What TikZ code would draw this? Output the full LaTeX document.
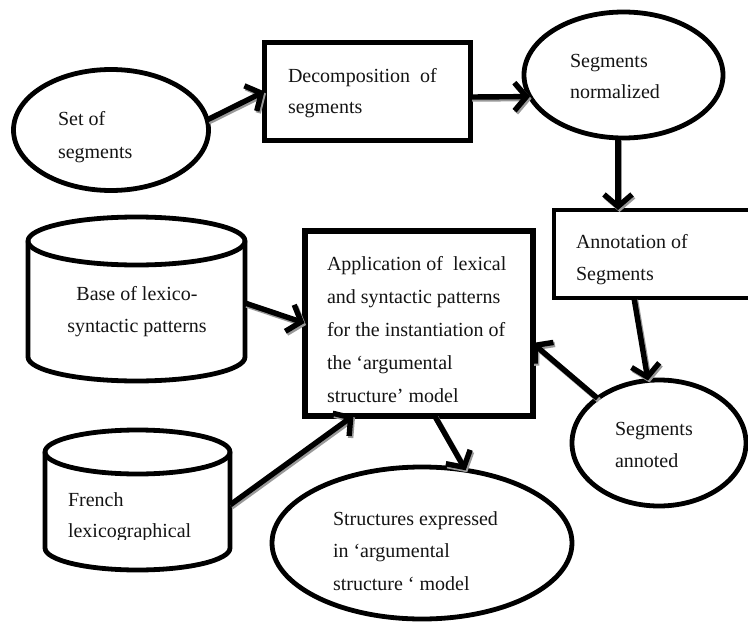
\documentclass[tikz,border=0pt]{standalone}
\usepackage{fontspec}
\setmainfont{Liberation Serif}
\usetikzlibrary{shapes.geometric,arrows.meta,calc}

\tikzset{
  outline/.style={draw=black, line width=4.8pt, fill=white, inner sep=0pt, outer sep=0pt},
  oval/.style={outline, ellipse},
  boxed/.style={outline, rectangle},
  drumframe/.style={rectangle, inner sep=0pt, outer sep=0pt},
  drumline/.style={draw=black, line width=4.8pt, fill=white, line join=round},
  txt/.style={inner sep=0pt, outer sep=0pt, text=black!92,
    font=\fontsize{20}{#1}\selectfont, align=left, anchor=base west},
  flow/.style={draw=black, line width=5.4pt,
    -{Straight Barb[length=12pt,width=28pt]}},
  flowshade/.style={flow, draw=black!40, transform canvas={shift={(1.5pt,-2pt)}}},
}

% database drum drawn over an invisible frame node: #1 node, #2 half width, #3 cap radius
\newcommand\drum[3]{%
  \draw[drumline] ($(#1.north west)+(0,#3)$) -- ($(#1.south west)+(0,-#3)$)
    arc[start angle=180, end angle=0, x radius=#2, y radius=#3]
    -- ($(#1.north east)+(0,#3)$)
    arc[start angle=0, end angle=-180, x radius=#2, y radius=#3] -- cycle;
  \draw[drumline, fill=none] ($(#1.north west)+(0,#3)$)
    arc[start angle=180, end angle=0, x radius=#2, y radius=#3];
}

% connector with a soft grey offset copy underneath
\newcommand\flowline[2]{%
  \draw[flowshade] #1 -- #2;
  \draw[flow] #1 -- #2;
}

\begin{document}
\begin{tikzpicture}[x=1pt,y=-1pt]
\useasboundingbox (0,0) rectangle (748,624);
\fill[white] (0,0) rectangle (748,624);
\begin{scope}
\clip (0,0) rectangle (748,624);

% processes and data
\node[oval, minimum width=195pt, minimum height=121pt] (set) at (111,130) {};
\node[boxed, line width=5.4pt, minimum width=206pt, minimum height=98pt] (dec) at (367.5,91.5) {};
\node[oval, minimum width=199pt, minimum height=126pt] (norm) at (623.5,75) {};
\node[boxed, minimum width=244pt, minimum height=88pt] (annot) at (676,254) {};
\node[boxed, line width=6pt, minimum width=228pt, minimum height=185pt] (app) at (418.5,323) {};
\node[oval, minimum width=174pt, minimum height=126pt] (seg2) at (659,443) {};
\node[oval, minimum width=300pt, minimum height=152pt] (struct) at (422,543) {};
\node[drumframe, minimum width=217pt, minimum height=164pt] (base) at (136.5,299) {};
\node[drumframe, minimum width=185pt, minimum height=140pt] (french) at (137.5,500) {};
\drum{base}{108.5}{24}
\drum{french}{92.5}{22}

% labels (anchored on the baseline of their last line)
\node[txt=33] (setT) at (58,158) {Set of\\segments};
\node[txt=31] (decT) at (288,113) {Decomposition\ \ of\\segments};
\node[txt=31] (normT) at (570,98) {Segments\\normalized};
\node[txt=32] (annotT) at (576,280) {Annotation of\\Segments};
\node[txt=32, align=center, anchor=base] (baseT) at (137,332) {Base of lexico-\\syntactic patterns};
\node[txt=33] (appT) at (327,402) {Application of\ \ lexical\\and syntactic patterns\\for the instantiation of\\the ‘argumental\\structure’ model};
\node[txt=32] (seg2T) at (615,467) {Segments\\annoted};
\begin{scope}
  \clip (0,0) rectangle (748,539);
  \node[txt=31] (frenchT) at (68,537) {French\\lexicographical};
\end{scope}
\node[txt=32.5] (structT) at (333,590) {Structures expressed\\in ‘argumental\\structure ‘ model};

% connectors
\flowline{(set.6)}{(dec.west)}
\flowline{([yshift=-5.5pt]dec.east)}{(norm.193)}
\flowline{(norm.265)}{(norm.265 |- annot.north)}
\flowline{([xshift=80pt]annot.south west)}{(seg2.100)}
\flowline{(seg2.144)}{([yshift=-20pt]app.east)}
\flowline{([yshift=-4pt]base.east)}{(app.west)}
\flowline{([yshift=-5pt]french.east)}{($(app.south west)!0.215!(app.south east)$)}
\flowline{($(app.south west)!0.57!(app.south east)$)}{(struct.59)}
\end{scope}
\end{tikzpicture}
\end{document}
